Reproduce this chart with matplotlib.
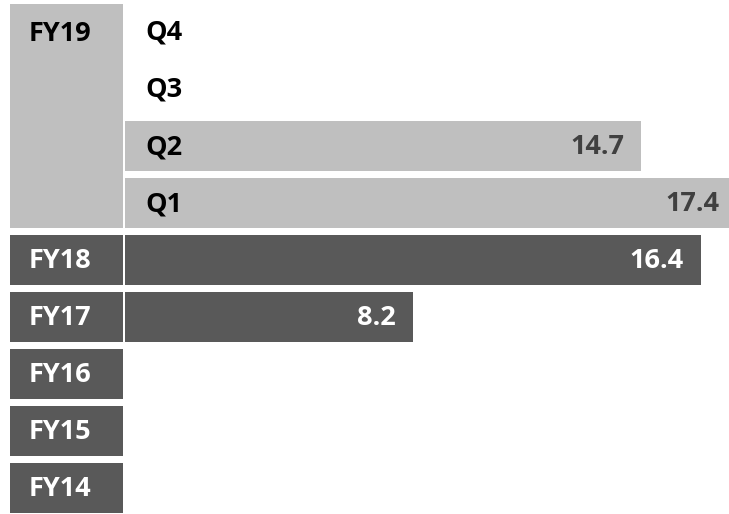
import matplotlib
matplotlib.use("Agg")
import matplotlib.pyplot as plt

# ---- data ----
quarters = ["Q4", "Q3", "Q2", "Q1"]
q_values = [None, None, 14.7, 17.4]
fy_labels = ["FY18", "FY17", "FY16", "FY15", "FY14"]
fy_values = [16.4, 8.2, None, None, None]
current_fy = "FY19"

LIGHT = "#BFBFBF"
DARK = "#595959"
FONT = "Open Sans"
FS = 19.5

W, H = 729, 514
fig = plt.figure(figsize=(W / 100, H / 100), dpi=100)

n_rows = len(quarters) + len(fy_labels)
pitch = 57.06
top_c = 31.5
y_top = -top_c / pitch
y_bot = (n_rows - 1) + (H - 488) / pitch
bh = 50 / pitch

# bar axes
ax = fig.add_axes([125 / W, 0, 1 - 125 / W, 1])
ax.set_xlim(0, (W - 125) / 35.1)
ax.set_ylim(y_bot, y_top)
ax.axis("off")

# label column axes
axl = fig.add_axes([9.5 / W, 0, 113.5 / W, 1])
axl.set_xlim(0, 1)
axl.set_ylim(y_bot, y_top)
axl.axis("off")

# FY19 tall block covering quarter rows
nq = len(quarters)
axl.barh((nq - 1) / 2 - 0.02, 1, height=(nq - 1) + bh + 0.04, left=0, color=LIGHT)
axl.text(19 / 113.5, 0.05, current_fy, ha="left", va="center", fontsize=FS,
         fontweight="bold", family=FONT, color="black")

for i, q in enumerate(quarters):
    v = q_values[i]
    if v is not None:
        ax.barh(i, v, height=bh, color=LIGHT)
        ax.annotate(f"{v:.1f}", xy=(v, i), xytext=(-12, -1), textcoords="offset points",
                    ha="right", va="center", fontsize=FS, fontweight="bold",
                    family=FONT, color="#404040", annotation_clip=False)
    ax.annotate(q, xy=(0, i), xytext=(15, -1), textcoords="offset points",
                ha="left", va="center", fontsize=FS, fontweight="bold",
                family=FONT, color="black")

for j, lab in enumerate(fy_labels):
    r = nq + j
    axl.barh(r, 1, height=bh, left=0, color=DARK)
    axl.text(19 / 113.5, r + 0.02, lab, ha="left", va="center", fontsize=FS,
             fontweight="bold", family=FONT, color="white")
    v = fy_values[j]
    if v is not None:
        ax.barh(r, v, height=bh, color=DARK)
        ax.annotate(f"{v:.1f}", xy=(v, r), xytext=(-12, -1), textcoords="offset points",
                    ha="right", va="center", fontsize=FS, fontweight="bold",
                    family=FONT, color="white", annotation_clip=False)

fig.savefig("out.png", dpi=100)
